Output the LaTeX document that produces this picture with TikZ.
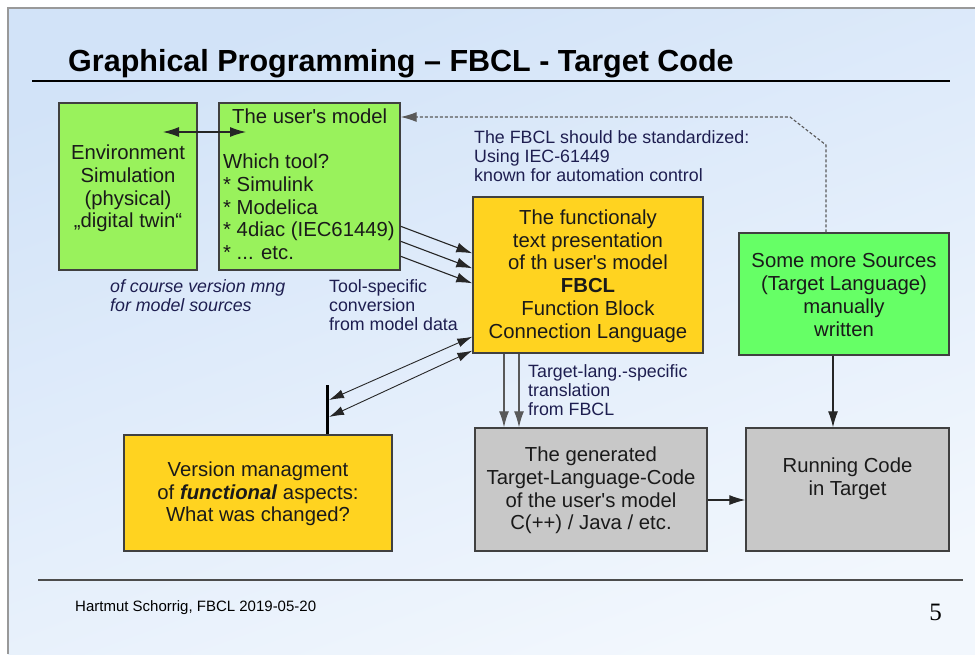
\documentclass[tikz,border=0pt]{standalone}
\usepackage{fontspec}
\setmainfont{Liberation Sans}
\newfontfamily\numfont{Liberation Serif}
\usetikzlibrary{arrows.meta,calc}
\newcommand\apos{\textquotesingle}
\definecolor{slideA}{HTML}{D2E3F8}
\definecolor{slideB}{HTML}{F2F7FD}
\definecolor{greenA}{HTML}{99F25C}
\definecolor{greenB}{HTML}{66FF66}
\definecolor{yel}{HTML}{FFD320}
\definecolor{grayb}{HTML}{C8C8C8}
\definecolor{bord}{HTML}{404040}
\definecolor{note}{HTML}{1E1E50}
\definecolor{txt}{HTML}{1A1A1A}
\tikzset{
  box/.style={draw=bord, line width=1.4pt, inner sep=0pt},
  boxtext/.style={align=center, text=txt, font=\fontsize{20.3}{22.7}\selectfont, inner sep=0pt},
  notetext/.style={align=left, text=note, font=\fontsize{17.8}{19.4}\selectfont, inner sep=0pt, anchor=north west},
  conn/.style={draw=black!85, line width=1.1pt, -{Latex[length=16pt,width=10pt]}},
  conn2/.style={draw=black!85, line width=0.9pt, {Latex[length=15pt,width=9pt]}-{Latex[length=15pt,width=9pt]}},
  gconn/.style={draw=black!65, line width=1.3pt, -{Latex[length=16pt,width=10pt]}},
}
\begin{document}
\begin{tikzpicture}[x=1pt,y=-1pt]
\useasboundingbox (0,0) rectangle (975,654);
\fill[white] (0,0) rectangle (975,654);
\shade[top color=slideA, bottom color=slideB, shading angle=20] (8,8) rectangle (975,654);
\draw[black!40, line width=1.2pt] (8,654) -- (8,8) -- (975,8);
% title
\node[anchor=base west, inner sep=0pt, font=\fontsize{30.5}{34}\selectfont\bfseries] (title) at (68,71) {Graphical Programming – FBCL - Target Code};
\draw[black, line width=1.2pt] (32,81) -- (950,81);
% footer
\draw[black!70, line width=1.5pt] (38,580) -- (963,580);
\node[anchor=base west, inner sep=0pt, font=\fontsize{15}{17}\selectfont] (foot) at (75,611) {Hartmut Schorrig, FBCL 2019-05-20};
\node[anchor=base east, inner sep=0pt, font=\numfont\fontsize{25}{28}\selectfont] (pnum) at (942,620) {5};
% boxes
\node[box, fill=greenA, minimum width=138pt, minimum height=167pt] (env) at (128,186.5) {};
\node[boxtext] (envt) at (128,188.5) {Environment\\Simulation\\(physical)\\„digital twin“};
\node[box, fill=greenA, minimum width=181pt, minimum height=167pt] (user) at (309.5,186.5) {};
\node[boxtext, align=left, anchor=north west] (usert) at (223,108.5) {\hspace*{9pt}The user\apos s model\\[22.7pt]Which tool?\\* Simulink\\* Modelica\\* 4diac (IEC61449)\\* ... etc.};
\node[box, fill=yel, minimum width=230pt, minimum height=156pt] (fbcl) at (588,275) {};
\node[boxtext] (fbclt) at (588,276) {The functionaly\\text presentation\\of th user\apos s model\\\textbf{FBCL}\\Function Block\\Connection Language};
\node[box, fill=greenB, minimum width=210pt, minimum height=122pt] (src) at (844,294) {};
\node[boxtext] (srct) at (844,295) {Some more Sources\\(Target Language)\\manually\\written};
\node[box, fill=yel, minimum width=268pt, minimum height=116pt] (ver) at (258,493) {};
\node[boxtext] (vert) at (258,494) {Version managment\\of \textbf{\textit{functional}} aspects:\\What was changed?};
\node[box, fill=grayb, minimum width=232pt, minimum height=123pt] (gen) at (591,489.5) {};
\node[boxtext] (gent) at (591,490.5) {The generated\\Target-Language-Code\\of the user\apos s model\\C(++) / Java / etc.};
\node[box, fill=grayb, minimum width=203pt, minimum height=123pt] (run) at (847.5,489.5) {};
\node[boxtext] (runt) at (847.5,478.5) {Running Code\\in Target};
% notes
\node[notetext, font=\fontsize{17.8}{19}\selectfont\itshape] (n1) at (110,279) {of course version mng\\for model sources};
\node[notetext] (n2) at (329,279) {Tool-specific\\conversion\\from model data};
\node[notetext] (n3) at (474,130) {The FBCL should be standardized:\\Using IEC-61449\\known for automation control};
\node[notetext] (n4) at (528,364) {Target-lang.-specific\\translation\\from FBCL};
% connectors
\coordinate (e1) at (163,132);
\coordinate (u1) at (246,132);
\draw[conn, {Latex[length=16pt,width=10pt]}-{Latex[length=16pt,width=10pt]}] (e1) -- (u1);
\draw[conn] ([yshift=-124pt]user.north east) -- ([yshift=-57pt]fbcl.north west);
\draw[conn] ([yshift=-139pt]user.north east) -- ([yshift=-72pt]fbcl.north west);
\draw[conn] ([yshift=-154pt]user.north east) -- ([yshift=-87pt]fbcl.north west);
\coordinate (bartop) at (327,385);
\draw[black, line width=3pt] (bartop) -- (ver.north -| bartop);
\coordinate (b1) at (329,400);
\coordinate (b2) at (329,417);
\draw[conn2] (b1) -- ([yshift=17pt]fbcl.south west);
\draw[conn2] (b2) -- ([yshift=3pt]fbcl.south west);
\draw[gconn] ([xshift=-84pt]fbcl.south) -- ([xshift=-84pt]fbcl.south |- gen.north);
\draw[gconn] ([xshift=-69pt]fbcl.south) -- ([xshift=-69pt]fbcl.south |- gen.north);
\draw[conn] ([yshift=-10.5pt]gen.east) -- ([yshift=-10.5pt]run.west);
\draw[conn] ([xshift=-11pt]src.south) -- ([xshift=-11pt]src.south |- run.north);
\coordinate (d1) at (826,145);
\coordinate (d2) at (790,117);
\draw[draw=black!65, line width=1.1pt, dash pattern=on 3pt off 2pt, -{Latex[length=16pt,width=10pt]}] ([xshift=-18pt]src.north) -- (d1) -- (d2) -- (user.east |- d2);
\end{tikzpicture}
\end{document}
